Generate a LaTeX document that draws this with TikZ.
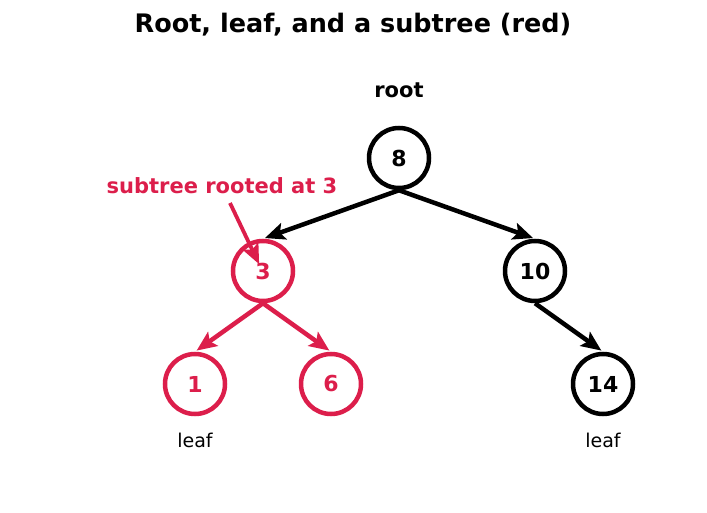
\documentclass[tikz,border=0pt]{standalone}
\usepackage{fontspec}
\setmainfont{DejaVu Sans}
\usepackage{xcolor}
\usepackage{tikz}
\usetikzlibrary{arrows.meta,positioning}
\definecolor{subred}{RGB}{220,30,75}

\begin{document}
\begin{tikzpicture}[
  x=1pt, y=1pt,
  vertex/.style={draw, circle, line width=4.5pt, minimum size=60pt, inner sep=0pt,
    font=\fontsize{22}{26}\selectfont\bfseries},
  edge/.style={-{Stealth[length=20pt,width=17pt,inset=4pt]}, line width=4.5pt, shorten >=2pt},
  note/.style={font=\fontsize{21}{25}\selectfont\bfseries},
  small/.style={font=\fontsize{19}{23}\selectfont}
]
\useasboundingbox (0,0) rectangle (707,512);
\node[font=\fontsize{25.5}{30}\selectfont\bfseries] (title) at (353,487) {Root, leaf, and a subtree (red)};
% tree
\node[vertex] (n8) at (399,354) {8};
\node[vertex, subred] (n3) at (263,241) {3};
\node[vertex] (n10) at (535,241) {10};
\node[vertex, subred] (n1) at (195,128) {1};
\node[vertex, subred] (n6) at (331,128) {6};
\node[vertex] (n14) at (603,128) {14};
\node[note] (rootlbl) at (399,422) {root};
\node[small] (leaf1) at (195,72) {leaf};
\node[small] (leaf14) at (603,72) {leaf};
\node[note, subred] (sublbl) at (222,326) {subtree rooted at 3};
\coordinate (subtip) at (260,246);
\draw[edge] (n8.south) -- (n3.north);
\draw[edge] (n8.south) -- (n10.north);
\draw[edge] (n10.south) -- (n14.north);
\draw[edge, subred] (n3.south) -- (n1.north);
\draw[edge, subred] (n3.south) -- (n6.north);
\draw[edge, subred, line width=3.8pt] (230,309) -- (subtip);
\end{tikzpicture}
\end{document}
